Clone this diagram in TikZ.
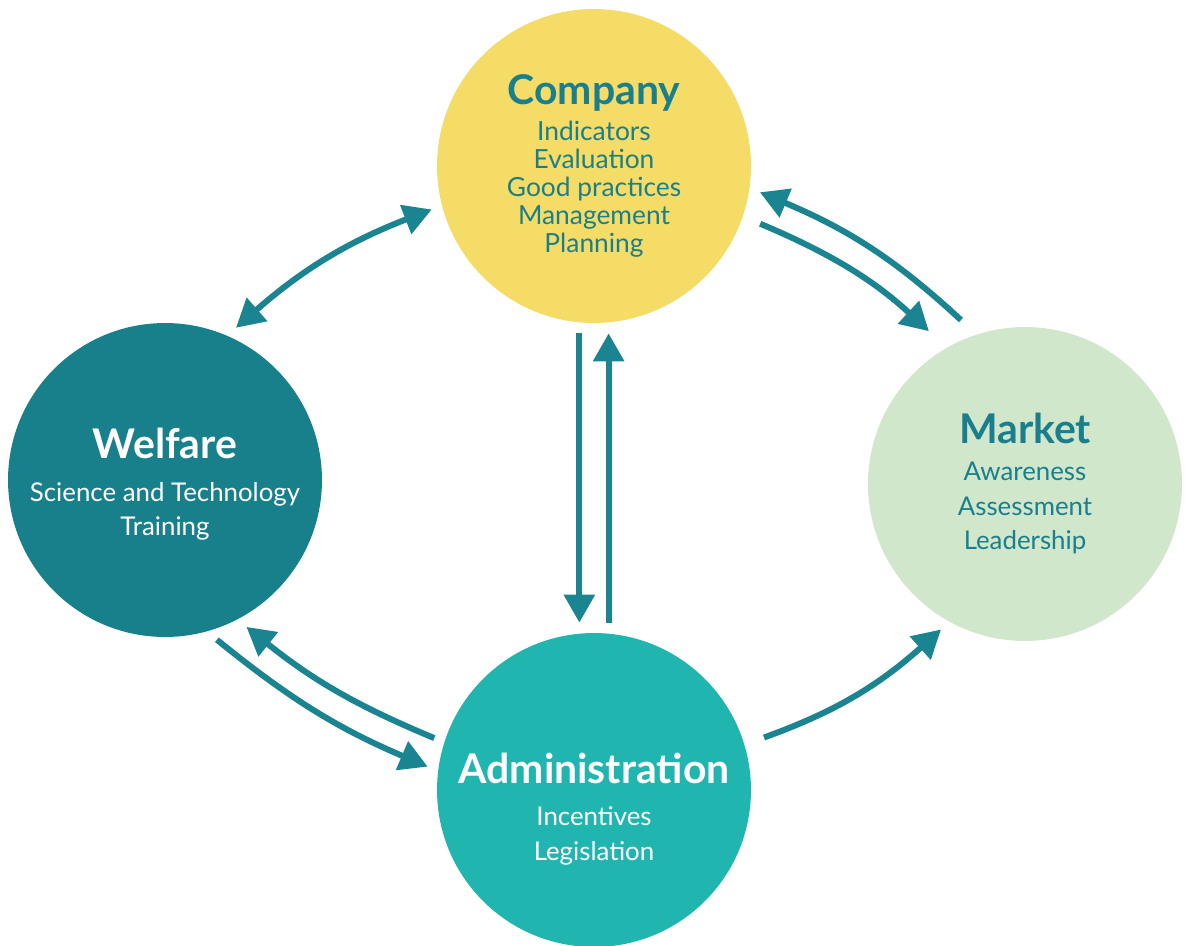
\documentclass[tikz,border=0pt]{standalone}
\usepackage{fontspec}
\setmainfont{Lato}
\usetikzlibrary{arrows.meta}
\definecolor{arrowteal}{HTML}{1A8590}
\definecolor{textteal}{HTML}{1A7F8C}
\definecolor{companyfill}{HTML}{F5DC67}
\definecolor{welfarefill}{HTML}{18808B}
\definecolor{marketfill}{HTML}{D1E7CB}
\definecolor{adminfill}{HTML}{21B5B0}

\begin{document}
\begin{tikzpicture}[x=0.02cm,y=-0.02cm,
  disc/.style={circle,minimum size=6.28cm,inner sep=0pt,outer sep=0.22cm},
  head/.style={font=\fontsize{23.3}{27}\selectfont\bfseries},
  items/.style={align=center,font=\fontsize{14.7}{19.5}\selectfont},
  arr/.style={-{Triangle[length=0.56cm,width=0.6cm]},line width=0.12cm,draw=arrowteal},
  twoway/.style={{Triangle[length=0.56cm,width=0.6cm]}-{Triangle[length=0.56cm,width=0.6cm]},line width=0.12cm,draw=arrowteal}]
\useasboundingbox (0,0) rectangle (1187,946);
% the four circles
\node[disc,fill=companyfill] (company) at (594,166) {};
\node[disc,fill=welfarefill] (welfare) at (165,480) {};
\node[disc,fill=marketfill] (market) at (1025,484) {};
\node[disc,fill=adminfill] (admin) at (594,790) {};
% texts
\node[head,text=textteal] (companyhead) at (594,93) {Company};
\node[items,text=textteal,font=\fontsize{15}{16}\selectfont] (companyitems) at (594,189) {Indicators\\Evaluation\\Good practices\\Management\\Planning};
\node[head,text=white] (welfarehead) at (165,443) {Welfare};
\node[items,text=white] (welfareitems) at (165,511) {Science and Technology\\Training};
\node[head,text=textteal] (markethead) at (1025,428) {Market};
\node[items,text=textteal] (marketitems) at (1025,508) {Awareness\\Assessment\\Leadership};
\node[head,text=white] (adminhead) at (594,768) {Administration};
\node[items,text=white] (adminitems) at (594,836) {Incentives\\Legislation};
% connectors
\draw[twoway] (welfare.65.6) to[bend left=10] (company.195);
\draw[arr,shorten <=0.16cm,shorten >=0.26cm] (company.-19.6) to[bend left=10] (market.121.7);
\draw[arr,shorten <=0.18cm] (market.110.5) to[bend right=10] (company.-9.2);
\draw[arr] (company.-95) -- (admin.95.2);
\draw[arr] (admin.85) -- (company.-85.2);
\draw[arr] (welfare.-72.2) to[bend right=8] (admin.172.6);
\draw[arr] (admin.162.2) to[bend left=8] (welfare.-61.4);
\draw[arr,shorten <=0.2cm] (admin.17.3) to[bend right=11] (market.240.2);
\end{tikzpicture}
\end{document}
